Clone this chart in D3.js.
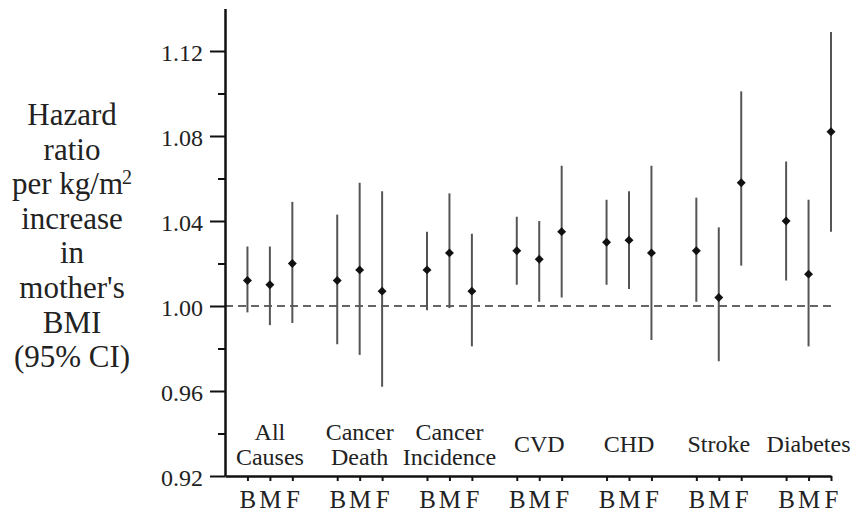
<!DOCTYPE html>
<html>
<head>
<meta charset="utf-8">
<script src="https://cdn.jsdelivr.net/npm/d3@7.9.0/dist/d3.min.js"></script>
<style>
  body { margin: 0; background: #fff; }
  svg, svg text { font-family: "Liberation Serif", "Times New Roman", serif; }
  svg { display: block; }
</style>
</head>
<body>
<svg id="chart" width="855" height="512"></svg>
<script>
// outcomes along the x axis
const causes = ["All Causes", "Cancer Death", "Cancer Incidence", "CVD", "CHD", "Stroke", "Diabetes"];
const parents = ["B", "M", "F"];

// hazard ratios and 95% CI
const hrB = [1.012, 1.012, 1.017, 1.026, 1.030, 1.026, 1.040];
const loB = [0.997, 0.982, 0.998, 1.010, 1.010, 1.002, 1.012];
const hiB = [1.028, 1.043, 1.035, 1.042, 1.050, 1.051, 1.068];

const hrM = [1.010, 1.017, 1.025, 1.022, 1.031, 1.004, 1.015];
const loM = [0.991, 0.977, 0.999, 1.002, 1.008, 0.974, 0.981];
const hiM = [1.028, 1.058, 1.053, 1.040, 1.054, 1.037, 1.050];

const hrF = [1.020, 1.007, 1.007, 1.035, 1.025, 1.058, 1.082];
const loF = [0.992, 0.962, 0.981, 1.004, 0.984, 1.019, 1.035];
const hiF = [1.049, 1.054, 1.034, 1.066, 1.066, 1.101, 1.129];

const majorTicks = [0.92, 0.96, 1.00, 1.04, 1.08, 1.12];
const minorTicks = [0.94, 0.98, 1.02, 1.06, 1.10];

const yLabel = ["Hazard", "ratio", "per kg/m", "increase", "in", "mother's", "BMI", "(95% CI)"];

const series = [[hrB, loB, hiB], [hrM, loM, hiM], [hrF, loF, hiF]];
let points = [];
causes.forEach((c, g) => {
  series.forEach(([hr, lo, hi], s) => {
    points.push({ pos: 4 * g + s + 1, parent: parents[s], hr: hr[g], lo: lo[g], hi: hi[g] });
  });
});

const svg = d3.select('#chart');
const serif = '"Liberation Serif", "Times New Roman", serif';

const x = d3.scaleLinear().domain([0, 27]).range([225, 831]);
const y = d3.scaleLinear().domain([0.92, 1.14]).range([476, 8.5]);

// reference line at 1
svg.append('line')
  .attr('x1', x(0)).attr('x2', x(27))
  .attr('y1', y(1)).attr('y2', y(1))
  .attr('stroke', '#333').attr('stroke-width', 1.5)
  .attr('stroke-dasharray', '8,5');

// error bars
svg.append('g').selectAll('line')
  .data(points)
  .join('line')
  .attr('x1', d => x(d.pos)).attr('x2', d => x(d.pos))
  .attr('y1', d => y(d.lo)).attr('y2', d => y(d.hi))
  .attr('stroke', '#555').attr('stroke-width', 2);

// point estimates
const diamond = d3.symbol(d3.symbolSquare, 40);
svg.append('g').selectAll('path')
  .data(points)
  .join('path')
  .attr('d', diamond)
  .attr('transform', d => `translate(${x(d.pos)},${y(d.hr)}) rotate(45)`)
  .attr('fill', '#111');

// y axis
const yAxis = svg.append('g')
  .attr('transform', `translate(${x(0)},0)`)
  .call(d3.axisLeft(y).tickValues(majorTicks).tickFormat(d3.format('.2f'))
    .tickSize(15).tickPadding(7).tickSizeOuter(0));
yAxis.selectAll('text').attr('dy', '0.4em').style('font-size', '24px');

const yMinor = svg.append('g')
  .attr('transform', `translate(${x(0)},0)`)
  .call(d3.axisLeft(y).tickValues(minorTicks).tickFormat('').tickSize(7).tickSizeOuter(0));
yMinor.select('.domain').remove();

// x axis
const xAxis = svg.append('g')
  .attr('transform', `translate(0,${y(0.92)})`)
  .call(d3.axisBottom(x).tickValues(points.map(d => d.pos))
    .tickFormat((d, i) => points[i].parent)
    .tickSize(5).tickPadding(9).tickSizeOuter(0));
xAxis.selectAll('text').style('font-size', '25px');

[yAxis, yMinor, xAxis].forEach(a => {
  a.attr('font-family', serif);
  a.selectAll('text').style('font-family', serif).attr('fill', '#222');
  a.selectAll('.domain').attr('stroke', '#111').attr('stroke-width', 2.5);
  a.selectAll('.tick line').attr('stroke', '#111').attr('stroke-width', 2);
});

// cause labels above the axis
causes.forEach((c, g) => {
  const words = c.split(' ');
  const t = svg.append('text')
    .attr('text-anchor', 'middle')
    .style('font-size', '24px')
    .attr('fill', '#222');
  if (words.length === 1) {
    t.append('tspan').attr('x', x(4 * g + 2)).attr('y', 452).text(words[0]);
  } else {
    words.forEach((w, k) => {
      t.append('tspan').attr('x', x(4 * g + 2)).attr('y', 440 + k * 25).text(w);
    });
  }
});

// y title
const title = svg.append('text')
  .attr('text-anchor', 'middle')
  .style('font-size', '31px')
  .attr('fill', '#222');
yLabel.forEach((line, k) => {
  const ts = title.append('tspan').attr('x', 72).attr('y', 125 + k * 34.6).text(line);
  if (line === 'per kg/m') {
    ts.append('tspan').attr('dy', -10).style('font-size', '20px').attr('dx', -1).text('2');
  }
});
</script>
</body>
</html>
